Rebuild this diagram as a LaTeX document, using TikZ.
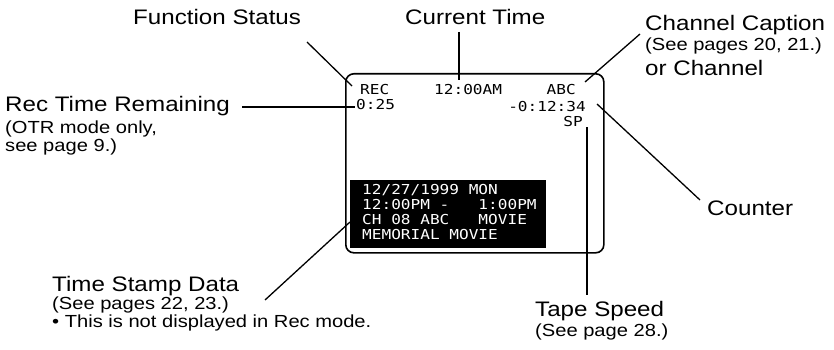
\documentclass[tikz,border=0pt]{standalone}
\usepackage{fontspec}
\setmainfont{Liberation Sans}[FakeStretch=1.15]
\newfontfamily\osdfont{DejaVu Sans Mono}[FakeStretch=1.175]
\begin{document}
\begin{tikzpicture}[x=1pt,y=-1pt,
  lbl/.style={anchor=base west, inner sep=0pt, font=\fontsize{21}{24}\selectfont},
  sub/.style={anchor=base west, inner sep=0pt, font=\fontsize{17.5}{20}\selectfont},
  osd/.style={inner sep=0pt, font=\osdfont\fontsize{13.7}{15}\selectfont},
  conn/.style={line width=1.3pt},
  screenbox/.style={draw, line width=1.6pt, rounded corners=8pt, inner sep=0pt, anchor=north west},
  stampbox/.style={fill=black, inner sep=0pt, anchor=north west}]
\useasboundingbox (0,0) rectangle (834,350);

% screen
\node[screenbox, minimum width=258pt, minimum height=179pt] (screen) at (345,73) {};
\node[stampbox, minimum width=196pt, minimum height=68pt] (stamp) at (350,180) {};

% OSD texts
\node[osd, anchor=base west] (rec) at (360,95) {REC};
\node[osd, anchor=base west] (remain) at (356,110) {0:25};
\node[osd, anchor=base west] (clock) at (434,95) {12:00AM};
\node[osd, anchor=base east] (chan) at (576,95) {ABC};
\node[osd, anchor=base east] (count) at (586,111) {-0:12:34};
\node[osd, anchor=base east] (speed) at (583,126) {SP};
\node[osd, anchor=base west, text=white] (ts1) at (362,194) {12/27/1999 MON};
\node[osd, anchor=base west, text=white] (ts2) at (362,209) {12:00PM -~~~1:00PM};
\node[osd, anchor=base west, text=white] (ts3) at (362,224) {CH 08 ABC~~~MOVIE};
\node[osd, anchor=base west, text=white] (ts4) at (362,239) {MEMORIAL MOVIE};

% labels
\node[lbl] (fs) at (133,25) {Function Status};
\node[lbl] (ct) at (405,25) {Current Time};
\node[lbl] (cc) at (645,31) {Channel Caption};
\node[sub] (cc2) at (645,51) {(See pages 20, 21.)};
\node[lbl] (cc3) at (645,76) {or Channel};
\node[lbl] (rt) at (5,112) {Rec Time Remaining};
\node[sub] (rt2) at (5,133) {(OTR mode only,};
\node[sub] (rt3) at (5,151) {see page 9.)};
\node[lbl] (co) at (707,215) {Counter};
\node[lbl] (td) at (52,291) {Time Stamp Data};
\node[sub] (td2) at (52,309) {(See pages 22, 23.)};
\node[sub] (td3) at (52,327) {\textbullet\ This is not displayed in Rec mode.};
\node[lbl] (tp) at (535,316) {Tape Speed};
\node[sub] (tp2) at (535,336) {(See page 28.)};

% connector end points
\coordinate (fsA) at (307,42);  \coordinate (fsB) at (352,86);
\coordinate (ctA) at (459,32);  \coordinate (ctB) at (459,80);
\coordinate (ccA) at (640,34);  \coordinate (ccB) at (585,82);
\coordinate (rtA) at (242,107); \coordinate (rtB) at (355,107);
\coordinate (coA) at (597,104); \coordinate (coB) at (700,200);
\coordinate (tdA) at (265,300); \coordinate (tdB) at (350,222);
\coordinate (tpA) at (587,127); \coordinate (tpB) at (587,295);

\draw[conn] (fsA) -- (fsB);
\draw[conn] (ctA) -- (ctB);
\draw[conn] (ccA) -- (ccB);
\draw[conn] (rtA) -- (rtB);
\draw[conn] (coA) -- (coB);
\draw[conn] (tdA) -- (tdB);
\draw[conn] (tpA) -- (tpB);
\end{tikzpicture}
\end{document}
